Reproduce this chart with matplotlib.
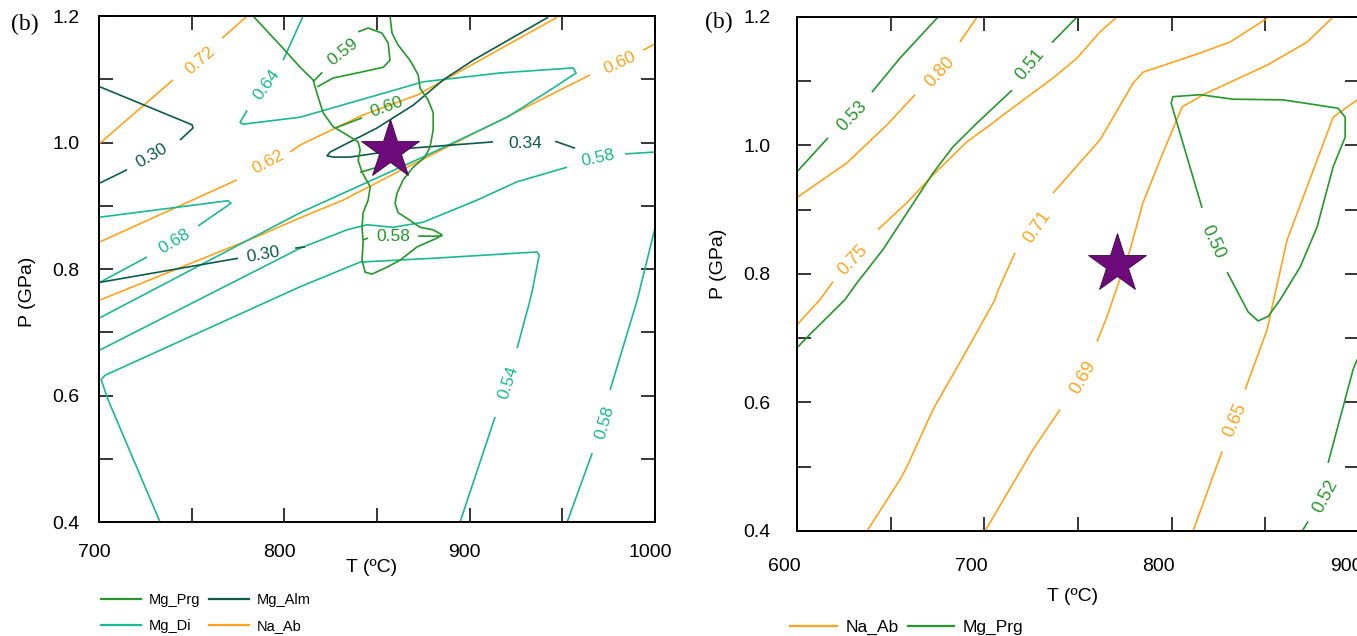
import numpy as np
import matplotlib.pyplot as plt
import matplotlib.transforms as mtransforms
from matplotlib.lines import Line2D

plt.rcParams['font.family'] = ['Liberation Sans', 'DejaVu Sans']

nan = np.nan

C_PRG = '#24982a'
C_ALM = '#0c5c49'
C_DI = '#1bb893'
C_AB = '#ffa41c'
C_STAR = '#6c0b79'

# ---------------- left panel: T 700-1000 C, P 0.4-1.2 GPa ----------------
# Na_Ab isopleths
ab1_t = [700.5, 739.9, nan, 766.4, 779.9]
ab1_p = [0.999, 1.099, nan, 1.165, 1.200]
ab2_t = [700.5, 774.5, nan, 803.1, 808.5, 841.9, 871.6, 947.2]
ab2_p = [0.843, 0.941, nan, 0.985, 0.996, 1.043, 1.075, 1.198]
ab3_t = [700.5, 785.8, 808.5, 831.7, 860.8, 965.0, nan, 993.6, 1000.0]
ab3_p = [0.751, 0.852, 0.881, 0.909, 0.953, 1.107, nan, 1.146, 1.156]

# Mg_Di isopleths
di1_t = [810.1, 799.3, nan, 779.9, 776.1, 777.7, 808.5, 874.9, 916.4, 955.8,
         957.4, 945.0, 920.2, 877.0, 808.5, 700.5]
di1_p = [1.200, 1.130, nan, 1.051, 1.032, 1.029, 1.040, 1.096, 1.110, 1.118,
         1.110, 1.086, 1.040, 0.980, 0.889, 0.723]
di2_t = [700.5, 769.6, 771.2, 753.4, nan, 725.9, 700.5]
di2_p = [0.882, 0.908, 0.904, 0.868, nan, 0.819, 0.779]
di3_t = [700.5, 808.5, 833.8, 844.6, 858.7, 874.9, 904.0, 925.6, 952.6, nan,
         983.9, 1000.0]
di3_p = [0.672, 0.833, 0.862, 0.870, 0.866, 0.874, 0.909, 0.938, 0.961, nan,
         0.982, 0.985]
di4_t = [732.9, 704.9, 701.1, 703.2, 808.5, 840.9, 880.3, 936.4, 937.5, 934.2,
         932.6, 925.6, nan, 913.7, 894.8]
di4_p = [0.400, 0.593, 0.625, 0.632, 0.772, 0.811, 0.817, 0.827, 0.822, 0.772,
         0.751, 0.675, nan, 0.566, 0.400]
di5_t = [1000.0, 990.4, 975.8, nan, 966.1, 952.6]
di5_p = [0.865, 0.751, 0.609, nan, 0.509, 0.400]

# Mg_Alm isopleths
alm1_t = [700.5, 750.2, 750.7, 743.7, nan, 715.1, 700.5]
alm1_p = [1.088, 1.028, 1.023, 1.004, nan, 0.957, 0.936]
alm2_t = [700.5, 775.0, nan, 805.8, 811.2]
alm2_p = [0.779, 0.817, nan, 0.833, 0.835]
alm3_t = [942.3, 901.8, 885.7, 869.5, 850.0, 824.7, 823.0, 826.3, 835.5, 867.8,
          912.6, nan, 946.1, 956.9]
alm3_p = [1.198, 1.130, 1.099, 1.059, 1.023, 0.985, 0.979, 0.977, 0.977, 0.991,
          1.001, nan, 1.002, 0.991]

# Mg_Prg isopleths
prg1_t = [783.1, 799.3, 808.5, 815.5, 818.2, 820.9, 826.3, 833.8, 839.8, 840.9,
          839.8, 841.9, 846.3, 845.2, 842.5, 841.9, 842.5, 841.9, 843.6, 847.3,
          855.4, 862.4, 871.6, 882.4, 885.1, 880.3, 873.2, 867.8, 861.4, 859.7,
          860.8, 864.1, 869.5, 875.9, 878.6, 880.3, 880.3, 877.6, 873.2, 872.2,
          867.8, 861.4, 858.1, 857.0]
prg1_p = [1.200, 1.149, 1.119, 1.099, 1.072, 1.047, 1.025, 1.012, 1.001, 0.988,
          0.972, 0.953, 0.930, 0.909, 0.889, 0.866, 0.843, 0.814, 0.795, 0.792,
          0.803, 0.814, 0.835, 0.849, 0.854, 0.862, 0.866, 0.877, 0.889, 0.904,
          0.920, 0.941, 0.961, 0.977, 0.993, 1.020, 1.047, 1.067, 1.086, 1.107,
          1.130, 1.154, 1.173, 1.200]
prg2_t = [815.5, 820.4, nan, 839.8, 845.2, 852.7, 856.0, 857.0, 853.3, 840.9,
          826.3, 817.7]
prg2_p = [1.096, 1.111, nan, 1.175, 1.181, 1.173, 1.157, 1.130, 1.119, 1.111,
          1.102, 1.088]
prg3_t = [827.4, 841.9, nan, 840.9, 852.7]
prg3_p = [1.023, 1.039, nan, 0.953, 0.963]
prg4_t = [842.5, 845.2, nan, 872.2, 885.1]
prg4_p = [0.846, 0.849, nan, 0.852, 0.852]

star_left = (857.1, 0.988)

# ---------------- right panel: T 600-900 C ----------------
rab1_t = [600.0, 626.7, 648.0, 663.0, nan, 687.0, 696.1]
rab1_p = [0.919, 0.973, 1.032, 1.079, nan, 1.161, 1.200]
rab2_t = [600.0, 612.3, 619.2, nan, 643.2, 658.7, 672.6, 690.8, 704.6, 708.4,
          736.7, 749.5, 761.8, 770.8]
rab2_p = [0.721, 0.760, 0.788, nan, 0.869, 0.911, 0.954, 1.006, 1.035, 1.044,
          1.105, 1.136, 1.177, 1.200]
rab3_t = [637.4, 655.0, 658.7, 672.6, 690.8, 705.7, 706.8, 716.4, nan, 736.7,
          761.8, 779.4, 784.7, 815.2, 831.2, 850.9]
rab3_p = [0.400, 0.480, 0.500, 0.589, 0.682, 0.760, 0.771, 0.833, nan, 0.926,
          1.009, 1.097, 1.114, 1.144, 1.161, 1.198]
rab4_t = [700.4, 726.0, 740.4, nan, 760.2, 765.5, 777.8, 784.7, 795.4, 805.6,
          816.8, 850.9, 872.3, 886.2]
rab4_p = [0.400, 0.527, 0.589, nan, 0.695, 0.734, 0.838, 0.911, 0.989, 1.060,
          1.079, 1.125, 1.161, 1.200]
rab5_t = [811.4, 826.9, nan, 839.2, 850.9, 861.6, 872.3, 886.2, 899.0]
rab5_p = [0.400, 0.524, nan, 0.620, 0.713, 0.853, 0.936, 1.044, 1.071]

rprg1_t = [600.0, 616.6, nan, 640.0, 655.0, 675.3]
rprg1_p = [0.959, 1.012, nan, 1.083, 1.136, 1.200]
rprg2_t = [600.0, 606.9, 625.6, 632.0, 645.9, 658.7, 672.6, 683.3, 696.1, 714.8,
           nan, 736.1, 749.5]
rprg2_p = [0.685, 0.706, 0.760, 0.786, 0.838, 0.895, 0.957, 0.998, 1.035, 1.086,
           nan, 1.160, 1.200]
rprg3_t = [816.2, 799.7, 800.7, 815.2, 832.8, 859.5, 888.8, 892.6, 892.6, 886.2,
           877.6, 868.6, 857.9, 851.5, 846.1, 840.8, 829.6]
rprg3_p = [0.903, 1.066, 1.076, 1.079, 1.072, 1.071, 1.058, 1.044, 1.013, 0.967,
           0.873, 0.811, 0.760, 0.734, 0.727, 0.741, 0.803]
rprg4_t = [869.7, 872.8, nan, 883.5, 896.8, 899.0]
rprg4_p = [0.400, 0.415, nan, 0.506, 0.651, 0.667]

star_right = (770.8, 0.816)

# label: (text, T, P, rotation)
left_lines = [
    (ab1_t, ab1_p, C_AB, ('0.72', 754.5, 1.130, 41)),
    (ab2_t, ab2_p, C_AB, ('0.62', 791.2, 0.969, 28)),
    (ab3_t, ab3_p, C_AB, ('0.60', 981.2, 1.126, 25)),
    (di1_t, di1_p, C_DI, ('0.64', 790.7, 1.091, 54)),
    (di2_t, di2_p, C_DI, ('0.68', 740.5, 0.843, 31)),
    (di3_t, di3_p, C_DI, ('0.58', 969.3, 0.976, 12)),
    (di4_t, di4_p, C_DI, ('0.54', 920.7, 0.621, 72)),
    (di5_t, di5_p, C_DI, ('0.58', 973.1, 0.558, 74)),
    (alm1_t, alm1_p, C_ALM, ('0.30', 728.6, 0.980, 30)),
    (alm2_t, alm2_p, C_ALM, ('0.30', 788.5, 0.822, 10)),
    (alm3_t, alm3_p, C_ALM, ('0.34', 929.9, 0.999, 0)),
    (prg1_t, prg1_p, C_PRG, None),
    (prg2_t, prg2_p, C_PRG, ('0.59', 831.7, 1.143, 38)),
    (prg3_t, prg3_p, C_PRG, ('0.60', 855.4, 1.056, 20)),
    (prg4_t, prg4_p, C_PRG, ('0.58', 858.7, 0.852, 0)),
]
right_lines = [
    (rab1_t, rab1_p, C_AB, ('0.80', 676.3, 1.115, 47)),
    (rab2_t, rab2_p, C_AB, ('0.75', 629.9, 0.822, 47)),
    (rab3_t, rab3_p, C_AB, ('0.71', 728.1, 0.873, 56)),
    (rab4_t, rab4_p, C_AB, ('0.69', 752.7, 0.639, 60)),
    (rab5_t, rab5_p, C_AB, ('0.65', 833.8, 0.573, 67)),
    (rprg1_t, rprg1_p, C_PRG, ('0.53', 629.4, 1.045, 46)),
    (rprg2_t, rprg2_p, C_PRG, ('0.51', 724.4, 1.125, 50)),
    (rprg3_t, rprg3_p, C_PRG, ('0.50', 822.1, 0.849, -65)),
    (rprg4_t, rprg4_p, C_PRG, ('0.52', 881.9, 0.454, 62)),
]

fig = plt.figure(figsize=(13.57, 6.36), dpi=100)
ax1 = fig.add_axes([0.0730, 0.1792, 0.4097, 0.7956])
ax2 = fig.add_axes([0.5873, 0.1651, 0.4142, 0.8082])


def draw_panel(ax, lines, star, xlim, lab_size):
    for t, p, c, lab in lines:
        ax.plot(t, p, color=c, lw=1.2, solid_capstyle='butt')
        if lab is not None:
            s, lt, lp, rot = lab
            ax.text(lt, lp, s, color=c, fontsize=lab_size, rotation=rot,
                    ha='center', va='center', rotation_mode='anchor')
    ax.plot([star[0]], [star[1]], marker='*', ms=44, color=C_STAR,
            markeredgecolor='#3a0644', markeredgewidth=0.6, zorder=5)
    ax.set_xlim(*xlim)
    ax.set_ylim(0.4, 1.2)
    xt = np.arange(xlim[0], xlim[1] + 1, 50)
    ax.set_xticks(xt)
    ax.set_xticklabels([str(int(v)) if v % 100 == 0 else '' for v in xt])
    yt = np.round(np.arange(0.4, 1.21, 0.1), 1)
    ax.set_yticks(yt)
    ax.set_yticklabels([f'{v:.1f}' if round(v * 10) % 2 == 0 else '' for v in yt])
    ax.tick_params(direction='in', length=10, width=1.1, top=True, right=True,
                   labelsize=14)
    for sp in ax.spines.values():
        sp.set_linewidth(1.4)


draw_panel(ax1, left_lines, star_left, (700, 1000), 12.5)
draw_panel(ax2, right_lines, star_right, (600, 900), 13)

ax1.tick_params(axis='x', pad=16)
ax1.tick_params(axis='y', pad=14)
ax2.tick_params(axis='x', pad=19.5)
ax2.tick_params(axis='y', pad=19)

for ax, dx in ((ax1, -0.05), (ax2, -0.13)):
    off = mtransforms.ScaledTranslation(dx, 0, fig.dpi_scale_trans)
    for lab in ax.get_xticklabels():
        lab.set_transform(lab.get_transform() + off)

ax1.set_xlabel('T (ºC)', fontsize=14)
ax1.xaxis.set_label_coords(0.491, -0.074)
ax1.set_ylabel('P (GPa)', fontsize=14)
ax1.yaxis.set_label_coords(-0.113, 0.455)
ax2.set_xlabel('T (ºC)', fontsize=14)
ax2.xaxis.set_label_coords(0.491, -0.110)
ax2.set_ylabel('P (GPa)', fontsize=14)
ax2.yaxis.set_label_coords(-0.124, 0.52)

fig.text(11 / 1357, 1 - 24 / 636, '(b)', family='Liberation Serif', fontsize=17,
         ha='left', va='center')
fig.text(705 / 1357, 1 - 22 / 636, '(b)', family='Liberation Serif', fontsize=17,
         ha='left', va='center')


def handle(c):
    return Line2D([], [], color=c, lw=1.6)


fig.legend([handle(C_PRG), handle(C_DI), handle(C_ALM), handle(C_AB)],
           ['Mg_Prg', 'Mg_Di', 'Mg_Alm', 'Na_Ab'], ncol=2, frameon=False,
           loc='upper left', bbox_to_anchor=(0.0744, 0.067), borderpad=0,
           borderaxespad=0, fontsize=10.5, handlelength=2.75, handletextpad=0.55,
           columnspacing=0.55, labelspacing=0.8)
fig.legend([handle(C_AB), handle(C_PRG)], ['Na_Ab', 'Mg_Prg'], ncol=2,
           frameon=False, loc='upper left', bbox_to_anchor=(0.5822, 0.026),
           borderpad=0, borderaxespad=0, fontsize=12.5, handlelength=2.7,
           handletextpad=0.5, columnspacing=0.5)

fig.savefig('out.png', dpi=100)
